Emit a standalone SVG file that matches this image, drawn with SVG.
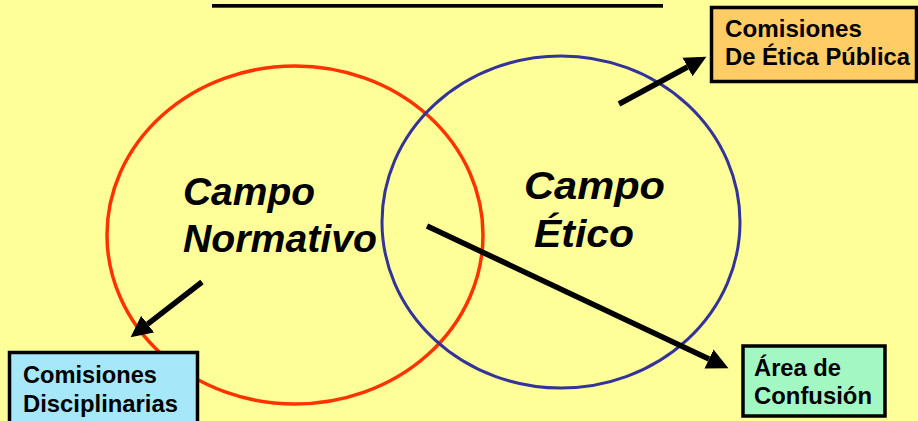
<svg xmlns="http://www.w3.org/2000/svg" width="918" height="421" viewBox="0 0 918 421">
<defs>
<style>
.bg{fill:#FFFF99}
.box{stroke:#000;stroke-width:3.5}
.bt{font-family:"Liberation Sans",Arial,sans-serif;font-weight:bold;font-size:24px;fill:#000}
.big{font-family:"Liberation Sans",Arial,sans-serif;font-weight:bold;font-style:italic;fill:#000}
.arr{stroke:#000;stroke-width:5.5;fill:none;marker-end:url(#ah)}
</style>
<marker id="ah" viewBox="0 -11 22 22" refX="0" refY="0" markerWidth="22" markerHeight="22" markerUnits="userSpaceOnUse" orient="auto">
<path d="M0,-10.5 L21.5,0 L0,10.5 Z" fill="#000"/>
</marker>
</defs>
<rect class="bg" x="0" y="0" width="918" height="421"/>
<rect x="212" y="4" width="451" height="3.7" fill="#000"/>
<g id="campo-normativo">
<ellipse cx="295" cy="235" rx="188" ry="169" fill="none" stroke="#FF3300" stroke-width="3.5"/>
<text class="big" font-size="38" x="183" y="205" textLength="132" lengthAdjust="spacingAndGlyphs">Campo</text>
<text class="big" font-size="38" x="183" y="252" textLength="194" lengthAdjust="spacingAndGlyphs">Normativo</text>
</g>
<g id="campo-etico">
<ellipse cx="561" cy="222" rx="179" ry="166" fill="none" stroke="#333399" stroke-width="3"/>
<text class="big" font-size="39" x="524" y="199" textLength="141" lengthAdjust="spacingAndGlyphs">Campo</text>
<text class="big" font-size="39" x="534" y="247" textLength="100" lengthAdjust="spacingAndGlyphs">Ético</text>
</g>
<g id="connectors">
<line class="arr" x1="202" y1="282" x2="147.6" y2="324.1"/>
<line class="arr" x1="619" y1="104" x2="687.5" y2="67"/>
<line class="arr" x1="427" y1="226" x2="709" y2="359"/>
</g>
<g id="comisiones-etica">
<rect class="box" x="711.5" y="7.5" width="205" height="74" fill="#FFCC66"/>
<text class="bt" x="725" y="37" textLength="137" lengthAdjust="spacingAndGlyphs">Comisiones</text>
<text class="bt" x="725" y="65" textLength="185" lengthAdjust="spacingAndGlyphs">De Ética Pública</text>
</g>
<g id="comisiones-disciplinarias">
<rect class="box" x="9.5" y="352.5" width="188" height="80" fill="#A6E8FA"/>
<text class="bt" x="23" y="383" textLength="134" lengthAdjust="spacingAndGlyphs">Comisiones</text>
<text class="bt" x="23" y="412" textLength="155" lengthAdjust="spacingAndGlyphs">Disciplinarias</text>
</g>
<g id="area-confusion">
<rect class="box" x="743" y="346" width="142" height="70" fill="#A3F7C3"/>
<text class="bt" x="754" y="376" textLength="87" lengthAdjust="spacingAndGlyphs">Área de</text>
<text class="bt" x="754" y="404" textLength="118" lengthAdjust="spacingAndGlyphs">Confusión</text>
</g>
</svg>
